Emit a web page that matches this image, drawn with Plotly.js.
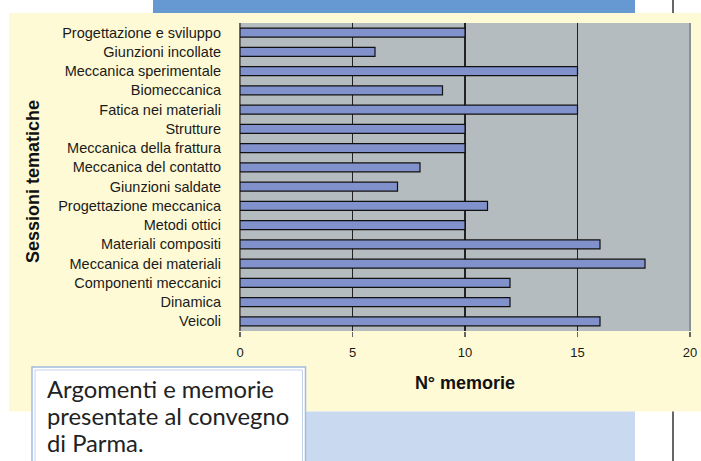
<!DOCTYPE html>
<html>
<head>
<meta charset="utf-8">
<script src="https://cdn.plot.ly/plotly-3.0.1.min.js"></script>
<style>html,body{margin:0;padding:0;background:#fff;}#chart{width:701px;height:461px;}</style>
</head>
<body>
<div id="chart"></div>
<script>
const categories = [
  "Progettazione e sviluppo",
  "Giunzioni incollate",
  "Meccanica sperimentale",
  "Biomeccanica",
  "Fatica nei materiali",
  "Strutture",
  "Meccanica della frattura",
  "Meccanica del contatto",
  "Giunzioni saldate",
  "Progettazione meccanica",
  "Metodi ottici",
  "Materiali compositi",
  "Meccanica dei materiali",
  "Componenti meccanici",
  "Dinamica",
  "Veicoli"
];
const memorie = [10, 6, 15, 9, 15, 10, 10, 8, 7, 11, 10, 16, 18, 12, 12, 16];
const xTicks = [0, 5, 10, 15, 20];
const yTitle = "Sessioni tematiche";
const xTitle = "N° memorie";
const captionLines = ["Argomenti e memorie", "presentate al convegno", "di Parma."];

// pixel -> paper helpers (plot area: x 240..690, y 23..331)
const L = 240, R = 11, T = 23, B = 130, W = 701, H = 461;
const pw = W - L - R, ph = H - T - B;
const px = x => (x - L) / pw;
const py = y => (H - B - y) / ph;

function rect(x0, y0, x1, y1, fill, line, lw, layer) {
  return {type: 'rect', xref: 'paper', yref: 'paper', layer: layer || 'below',
    x0: px(x0), x1: px(x1), y0: py(y1), y1: py(y0),
    fillcolor: fill, line: {color: line || 'rgba(0,0,0,0)', width: lw || 0}};
}
function vline(x, y0, y1, color, w, layer) {
  return {type: 'line', xref: 'paper', yref: 'paper', layer: layer || 'below',
    x0: px(x), x1: px(x), y0: py(y1), y1: py(y0), line: {color: color, width: w}};
}

const shapes = [
  rect(9, 13, 701, 411.5, '#FFFAD6'),
  rect(240, 23, 690, 331, '#B4BCBF'),
  rect(153, 0, 635, 13, '#6699D2'),
  rect(250, 411.5, 635, 461, '#C9D9EF'),
  vline(673, 0, 13, '#666666', 2),
  vline(673, 411.5, 461, '#666666', 2),
  rect(32, 367, 305.5, 475, '#FFFFFF', '#A3BBDF', 1.5),
  rect(35, 370, 302.5, 475, 'rgba(0,0,0,0)', '#C3D3EC', 1),
  vline(690, 23, 331, '#8A9094', 2, 'above')
];

const annotations = captionLines.map((t, i) => ({
  xref: 'paper', yref: 'paper', x: px(45), y: py(389 + 27 * i),
  xanchor: 'left', yanchor: 'middle', showarrow: false, align: 'left',
  text: t, font: {family: 'Lato, "Open Sans", sans-serif', size: 23.8, color: '#222222'}
}));
annotations.push({
  xref: 'paper', yref: 'paper', x: px(33), y: py(182),
  xanchor: 'center', yanchor: 'middle', showarrow: false, textangle: -90,
  text: yTitle,
  font: {family: '"Liberation Sans", Arial, sans-serif', size: 18, color: '#111111', weight: 'bold'}
});

const data = [{
  type: 'bar', orientation: 'h',
  x: memorie, y: categories,
  width: 0.46,
  marker: {color: '#8191CB', line: {color: '#111111', width: 1.2}},
  hoverinfo: 'x+y'
}];

const layout = {
  width: W, height: H,
  margin: {l: L, r: R, t: T, b: B, pad: 0},
  paper_bgcolor: '#FFFFFF',
  plot_bgcolor: 'rgba(0,0,0,0)',
  showlegend: false,
  font: {family: '"Liberation Sans", Arial, sans-serif', size: 14.5, color: '#1a1a1a'},
  bargap: 0,
  xaxis: {
    range: [0, 20], tickvals: xTicks, ticktext: xTicks.map(String),
    showgrid: true, gridcolor: '#222222', gridwidth: 1.3,
    zeroline: true, zerolinecolor: '#666666', zerolinewidth: 2,
    ticks: 'outside', ticklen: 5, tickcolor: '#666666', tickwidth: 1.5,
    ticklabelstandoff: 4,
    tickfont: {size: 13, color: '#1a1a1a'},
    showline: false, fixedrange: true,
    title: {text: xTitle, standoff: 17,
      font: {family: '"Liberation Sans", Arial, sans-serif', size: 18, color: '#111111', weight: 'bold'}}
  },
  yaxis: {
    type: 'category', autorange: 'reversed',
    showgrid: false, zeroline: false, showline: false,
    ticks: '', ticklabelstandoff: 18,
    tickfont: {size: 14.5, color: '#1a1a1a'},
    fixedrange: true
  },
  shapes: shapes,
  annotations: annotations
};

Plotly.newPlot('chart', data, layout, {displayModeBar: false, staticPlot: true});
</script>
</body>
</html>
